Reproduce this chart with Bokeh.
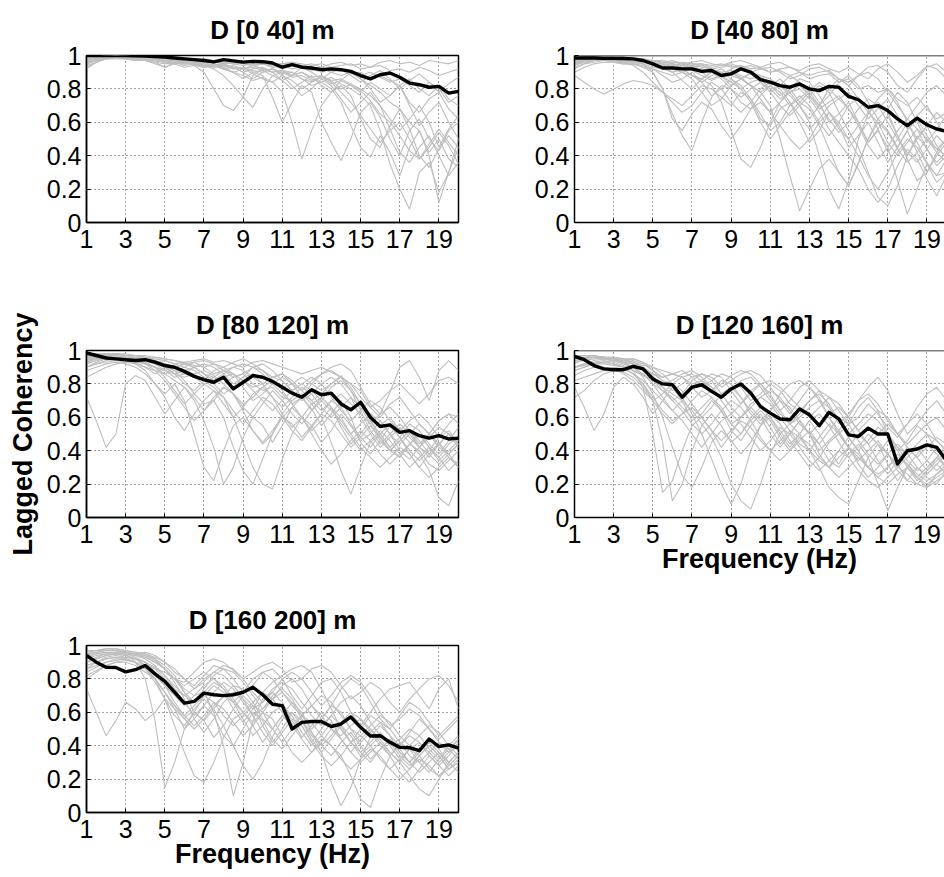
from bokeh.plotting import figure
from bokeh.layouts import column, row
from bokeh.models import FixedTicker, NumeralTickFormatter, Span, Range1d
from bokeh.embed import file_html
from bokeh.resources import INLINE

# ---------------- data ----------------
FREQ = [1.0, 1.5, 2.0, 2.5, 3.0, 3.5, 4.0, 4.5, 5.0, 5.5, 6.0, 6.5, 7.0, 7.5, 8.0, 8.5,
        9.0, 9.5, 10.0, 10.5, 11.0, 11.5, 12.0, 12.5, 13.0, 13.5, 14.0, 14.5, 15.0,
        15.5, 16.0, 16.5, 17.0, 17.5, 18.0, 18.5, 19.0, 19.5, 20.0]
X_TICKS = [1, 3, 5, 7, 9, 11, 13, 15, 17, 19]
Y_TICKS = [0, 0.2, 0.4, 0.6, 0.8, 1.0]
TITLES = ["D [0 40] m", "D [40 80] m", "D [80 120] m", "D [120 160] m", "D [160 200] m"]
X_LABEL = "Frequency (Hz)"
Y_LABEL = "Lagged Coherency"

MEAN_0_40 = [1.0, 1.0, 1.0, 1.0, 1.0, 0.998, 0.997, 0.993, 0.99, 0.985, 0.98, 0.975, 0.97,
             0.962, 0.975, 0.968, 0.96, 0.965, 0.963, 0.955, 0.93, 0.945, 0.93, 0.925, 0.915,
             0.92, 0.915, 0.905, 0.88, 0.86, 0.885, 0.895, 0.87, 0.835, 0.825, 0.81, 0.815,
             0.775, 0.785]
GREY_0_40 = [
    [0.97,0.98,0.99,1.0,0.99,0.99,0.98,0.98,0.97,0.98,0.97,0.96,0.97,0.96,0.95,0.96,0.97,0.95,0.96,0.94,0.95,0.96,0.94,0.95,0.93,0.95,0.96,0.94,0.95,0.93,0.96,0.97,0.95,0.96,0.94,0.97,0.96,0.95,0.97],
    [0.95,0.97,0.99,0.99,0.98,0.98,0.97,0.97,0.96,0.95,0.93,0.94,0.9,0.8,0.7,0.67,0.75,0.88,0.92,0.9,0.85,0.88,0.93,0.9,0.86,0.9,0.92,0.88,0.84,0.88,0.91,0.86,0.8,0.85,0.89,0.84,0.78,0.83,0.87],
    [0.92,0.96,0.98,0.99,0.99,0.98,0.98,0.97,0.96,0.97,0.96,0.95,0.94,0.95,0.93,0.9,0.86,0.9,0.88,0.75,0.6,0.72,0.82,0.78,0.6,0.48,0.37,0.5,0.66,0.72,0.63,0.5,0.4,0.55,0.62,0.5,0.43,0.55,0.6],
    [0.96,0.98,0.99,0.99,0.98,0.98,0.97,0.96,0.93,0.95,0.96,0.95,0.93,0.94,0.92,0.9,0.88,0.85,0.87,0.84,0.78,0.6,0.38,0.55,0.7,0.78,0.82,0.76,0.62,0.5,0.45,0.58,0.68,0.56,0.4,0.33,0.44,0.52,0.45],
    [0.97,0.98,0.99,0.99,0.99,0.98,0.98,0.97,0.97,0.96,0.97,0.96,0.95,0.94,0.95,0.93,0.92,0.94,0.92,0.9,0.91,0.88,0.9,0.86,0.84,0.87,0.83,0.8,0.76,0.7,0.55,0.35,0.2,0.08,0.3,0.36,0.18,0.3,0.45],
    [0.98,0.99,0.99,1.0,0.99,0.99,0.99,0.98,0.97,0.98,0.97,0.97,0.96,0.96,0.96,0.95,0.94,0.95,0.95,0.93,0.94,0.92,0.93,0.91,0.92,0.9,0.88,0.9,0.86,0.82,0.78,0.72,0.68,0.6,0.55,0.42,0.5,0.38,0.33],
    [0.96,0.97,0.98,0.99,0.98,0.97,0.97,0.95,0.93,0.96,0.97,0.96,0.94,0.92,0.88,0.82,0.75,0.69,0.8,0.88,0.85,0.8,0.84,0.88,0.82,0.78,0.85,0.9,0.86,0.8,0.72,0.76,0.82,0.7,0.58,0.66,0.72,0.6,0.5],
    [0.95,0.97,0.98,0.99,0.99,0.98,0.97,0.97,0.96,0.95,0.96,0.94,0.95,0.93,0.94,0.92,0.93,0.91,0.9,0.92,0.89,0.9,0.86,0.82,0.84,0.8,0.72,0.58,0.45,0.39,0.52,0.42,0.28,0.45,0.55,0.4,0.12,0.3,0.5],
    [0.99,0.99,1.0,1.0,1.0,0.99,0.99,0.99,0.98,0.98,0.98,0.97,0.98,0.97,0.97,0.96,0.97,0.96,0.96,0.95,0.95,0.96,0.95,0.94,0.95,0.93,0.94,0.95,0.92,0.93,0.94,0.91,0.92,0.9,0.93,0.91,0.88,0.9,0.92],
    [0.93,0.96,0.98,0.99,0.99,0.98,0.98,0.97,0.97,0.96,0.95,0.96,0.94,0.93,0.94,0.93,0.9,0.92,0.93,0.9,0.91,0.9,0.86,0.84,0.87,0.85,0.8,0.83,0.79,0.73,0.65,0.6,0.52,0.43,0.38,0.47,0.56,0.48,0.4],
    [0.97,0.98,0.99,0.99,0.99,0.99,0.98,0.98,0.97,0.97,0.96,0.95,0.96,0.94,0.95,0.92,0.93,0.9,0.91,0.88,0.9,0.87,0.88,0.85,0.87,0.83,0.85,0.82,0.78,0.84,0.8,0.76,0.82,0.72,0.66,0.74,0.78,0.68,0.62],
    [0.98,0.99,0.99,0.99,0.99,0.99,0.98,0.98,0.98,0.97,0.97,0.96,0.96,0.97,0.95,0.96,0.95,0.94,0.95,0.94,0.92,0.94,0.93,0.92,0.9,0.92,0.91,0.89,0.9,0.86,0.88,0.85,0.82,0.86,0.8,0.76,0.82,0.74,0.7],
    [0.96,0.97,0.98,0.99,0.99,0.98,0.98,0.97,0.96,0.96,0.95,0.95,0.94,0.95,0.93,0.94,0.92,0.93,0.91,0.92,0.9,0.88,0.9,0.87,0.88,0.85,0.86,0.83,0.8,0.76,0.7,0.62,0.55,0.62,0.7,0.6,0.45,0.56,0.64],
    [0.94,0.96,0.98,0.98,0.98,0.97,0.97,0.96,0.95,0.96,0.94,0.95,0.93,0.94,0.92,0.93,0.9,0.86,0.9,0.92,0.88,0.82,0.76,0.8,0.86,0.82,0.74,0.66,0.72,0.78,0.7,0.56,0.42,0.36,0.45,0.52,0.4,0.28,0.36],
    [0.97,0.98,0.99,0.99,0.99,0.99,0.98,0.98,0.97,0.97,0.97,0.96,0.97,0.96,0.96,0.95,0.96,0.94,0.95,0.93,0.94,0.95,0.93,0.92,0.93,0.91,0.92,0.9,0.88,0.9,0.87,0.84,0.86,0.82,0.78,0.84,0.8,0.72,0.76],
    [0.95,0.97,0.98,0.99,0.98,0.98,0.97,0.97,0.96,0.95,0.96,0.94,0.93,0.94,0.92,0.9,0.92,0.89,0.86,0.84,0.88,0.85,0.8,0.84,0.88,0.84,0.78,0.72,0.64,0.56,0.48,0.55,0.6,0.5,0.38,0.45,0.54,0.46,0.35],
]

MEAN_40_80 = [0.985, 0.985, 0.985, 0.983, 0.983, 0.982, 0.98, 0.97, 0.95, 0.925, 0.925, 0.92,
              0.92, 0.905, 0.91, 0.88, 0.89, 0.92, 0.9, 0.855, 0.84, 0.82, 0.81, 0.83, 0.8,
              0.79, 0.815, 0.81, 0.755, 0.735, 0.69, 0.7, 0.67, 0.62, 0.58, 0.625, 0.585,
              0.56, 0.545]
GREY_40_80 = [
    [0.97,0.98,0.99,0.99,0.99,0.98,0.98,0.97,0.97,0.96,0.97,0.95,0.96,0.97,0.95,0.94,0.96,0.97,0.95,0.93,0.95,0.96,0.93,0.91,0.94,0.95,0.92,0.9,0.93,0.89,0.86,0.92,0.95,0.9,0.84,0.88,0.94,0.92,0.86],
    [0.88,0.84,0.8,0.77,0.8,0.83,0.85,0.84,0.82,0.78,0.74,0.7,0.76,0.82,0.8,0.75,0.7,0.78,0.74,0.62,0.58,0.68,0.72,0.6,0.48,0.55,0.66,0.58,0.45,0.52,0.6,0.48,0.36,0.45,0.55,0.42,0.3,0.4,0.48],
    [0.96,0.97,0.98,0.98,0.97,0.96,0.95,0.93,0.9,0.8,0.65,0.52,0.43,0.6,0.75,0.82,0.8,0.72,0.68,0.76,0.82,0.78,0.7,0.74,0.8,0.72,0.6,0.65,0.72,0.6,0.48,0.56,0.64,0.52,0.4,0.5,0.58,0.46,0.38],
    [0.95,0.97,0.98,0.98,0.98,0.97,0.97,0.96,0.95,0.94,0.92,0.9,0.88,0.86,0.82,0.72,0.55,0.38,0.33,0.45,0.6,0.72,0.78,0.7,0.62,0.7,0.8,0.86,0.82,0.74,0.66,0.74,0.8,0.72,0.6,0.5,0.58,0.66,0.6],
    [0.97,0.98,0.98,0.99,0.98,0.98,0.97,0.96,0.97,0.95,0.93,0.94,0.92,0.9,0.92,0.88,0.9,0.86,0.82,0.78,0.7,0.5,0.28,0.07,0.2,0.32,0.38,0.3,0.22,0.35,0.5,0.62,0.55,0.45,0.55,0.62,0.52,0.44,0.5],
    [0.96,0.97,0.98,0.99,0.98,0.98,0.97,0.97,0.96,0.95,0.94,0.95,0.93,0.92,0.9,0.92,0.88,0.86,0.89,0.84,0.8,0.82,0.76,0.7,0.6,0.4,0.2,0.08,0.25,0.5,0.65,0.72,0.66,0.52,0.38,0.25,0.3,0.42,0.5],
    [0.98,0.99,0.99,0.99,0.99,0.99,0.98,0.98,0.97,0.97,0.96,0.96,0.95,0.95,0.94,0.95,0.93,0.94,0.92,0.93,0.9,0.91,0.88,0.9,0.86,0.88,0.89,0.84,0.86,0.8,0.82,0.78,0.8,0.74,0.7,0.75,0.68,0.62,0.66],
    [0.94,0.96,0.97,0.98,0.97,0.96,0.96,0.95,0.93,0.92,0.9,0.92,0.88,0.86,0.9,0.88,0.84,0.8,0.84,0.86,0.8,0.74,0.78,0.82,0.76,0.68,0.72,0.76,0.68,0.6,0.48,0.55,0.45,0.25,0.05,0.2,0.35,0.28,0.3],
    [0.95,0.96,0.97,0.97,0.96,0.95,0.95,0.94,0.92,0.88,0.84,0.86,0.9,0.84,0.76,0.8,0.86,0.82,0.74,0.65,0.55,0.6,0.7,0.76,0.7,0.6,0.52,0.6,0.7,0.75,0.68,0.56,0.42,0.5,0.6,0.48,0.36,0.28,0.38],
    [0.97,0.98,0.98,0.99,0.99,0.98,0.98,0.98,0.97,0.96,0.96,0.95,0.94,0.95,0.93,0.94,0.95,0.93,0.94,0.92,0.9,0.92,0.93,0.9,0.88,0.9,0.91,0.86,0.82,0.88,0.93,0.94,0.9,0.82,0.78,0.86,0.93,0.95,0.9],
    [0.96,0.97,0.98,0.98,0.98,0.97,0.96,0.96,0.95,0.93,0.9,0.85,0.8,0.86,0.9,0.86,0.8,0.75,0.8,0.84,0.78,0.7,0.64,0.7,0.76,0.82,0.78,0.66,0.55,0.45,0.3,0.15,0.1,0.22,0.4,0.52,0.44,0.36,0.42],
    [0.92,0.95,0.97,0.97,0.96,0.96,0.97,0.96,0.95,0.94,0.95,0.93,0.91,0.88,0.85,0.88,0.9,0.87,0.82,0.78,0.82,0.86,0.8,0.72,0.78,0.84,0.8,0.74,0.78,0.7,0.62,0.68,0.74,0.64,0.56,0.64,0.7,0.6,0.52],
    [0.98,0.98,0.99,0.99,0.98,0.98,0.97,0.96,0.95,0.93,0.9,0.92,0.94,0.9,0.86,0.88,0.92,0.94,0.9,0.84,0.78,0.82,0.88,0.84,0.76,0.7,0.76,0.84,0.88,0.82,0.72,0.62,0.68,0.78,0.72,0.6,0.48,0.56,0.64],
    [0.93,0.95,0.96,0.97,0.97,0.96,0.94,0.9,0.84,0.78,0.72,0.66,0.7,0.78,0.84,0.8,0.72,0.66,0.72,0.8,0.84,0.8,0.72,0.64,0.56,0.62,0.7,0.74,0.68,0.58,0.46,0.38,0.45,0.55,0.62,0.56,0.44,0.34,0.4],
    [0.97,0.98,0.98,0.98,0.98,0.97,0.97,0.96,0.96,0.95,0.95,0.94,0.93,0.94,0.92,0.93,0.94,0.92,0.9,0.92,0.93,0.9,0.86,0.88,0.92,0.93,0.9,0.86,0.84,0.88,0.9,0.86,0.78,0.7,0.62,0.7,0.78,0.82,0.76],
    [0.95,0.96,0.97,0.98,0.97,0.97,0.96,0.95,0.9,0.8,0.62,0.55,0.65,0.72,0.68,0.58,0.5,0.58,0.68,0.72,0.66,0.58,0.5,0.44,0.5,0.6,0.66,0.6,0.5,0.4,0.28,0.2,0.3,0.42,0.5,0.45,0.35,0.24,0.3],
    [0.96,0.97,0.98,0.98,0.98,0.97,0.96,0.96,0.95,0.94,0.93,0.9,0.92,0.94,0.92,0.88,0.82,0.86,0.9,0.88,0.82,0.76,0.8,0.86,0.84,0.76,0.66,0.56,0.5,0.58,0.66,0.6,0.48,0.4,0.48,0.56,0.5,0.42,0.36],
    [0.9,0.93,0.95,0.96,0.96,0.95,0.95,0.93,0.92,0.9,0.88,0.9,0.86,0.78,0.7,0.74,0.82,0.86,0.82,0.74,0.66,0.72,0.8,0.84,0.78,0.7,0.62,0.54,0.6,0.68,0.74,0.7,0.6,0.5,0.42,0.36,0.44,0.52,0.46],
    [0.97,0.98,0.98,0.99,0.98,0.98,0.97,0.97,0.96,0.96,0.95,0.94,0.95,0.93,0.92,0.9,0.91,0.88,0.86,0.88,0.86,0.82,0.78,0.8,0.74,0.66,0.56,0.48,0.4,0.32,0.2,0.12,0.2,0.34,0.44,0.38,0.26,0.16,0.28],
    [0.96,0.97,0.97,0.98,0.98,0.97,0.97,0.96,0.94,0.92,0.94,0.92,0.88,0.84,0.88,0.9,0.86,0.8,0.72,0.6,0.5,0.58,0.66,0.72,0.68,0.58,0.44,0.3,0.22,0.36,0.5,0.6,0.54,0.44,0.36,0.42,0.5,0.44,0.4],
]

MEAN_80_120 = [0.985, 0.97, 0.955, 0.95, 0.945, 0.94, 0.945, 0.93, 0.91, 0.9, 0.875, 0.845,
               0.825, 0.81, 0.84, 0.77, 0.81, 0.85, 0.84, 0.815, 0.78, 0.745, 0.72, 0.765,
               0.735, 0.745, 0.68, 0.645, 0.69, 0.6, 0.545, 0.555, 0.51, 0.52, 0.49, 0.475,
               0.49, 0.47, 0.475]
GREY_80_120 = [
    [0.72,0.58,0.42,0.5,0.8,0.85,0.82,0.72,0.62,0.7,0.78,0.72,0.64,0.7,0.78,0.74,0.66,0.6,0.68,0.76,0.7,0.62,0.56,0.64,0.72,0.66,0.54,0.44,0.5,0.58,0.48,0.4,0.46,0.52,0.42,0.36,0.44,0.5,0.42],
    [0.95,0.97,0.98,0.98,0.98,0.97,0.97,0.96,0.95,0.94,0.93,0.94,0.95,0.93,0.94,0.92,0.9,0.93,0.94,0.92,0.9,0.88,0.86,0.88,0.9,0.87,0.84,0.8,0.76,0.66,0.6,0.68,0.72,0.64,0.56,0.5,0.58,0.62,0.56],
    [0.9,0.92,0.94,0.95,0.94,0.92,0.88,0.8,0.74,0.8,0.7,0.5,0.3,0.22,0.4,0.55,0.6,0.52,0.45,0.52,0.6,0.56,0.48,0.55,0.62,0.58,0.5,0.42,0.48,0.55,0.48,0.4,0.36,0.44,0.5,0.42,0.34,0.4,0.46],
    [0.93,0.95,0.96,0.96,0.95,0.94,0.93,0.9,0.86,0.82,0.78,0.7,0.58,0.42,0.2,0.3,0.48,0.6,0.55,0.45,0.55,0.66,0.72,0.65,0.55,0.62,0.7,0.6,0.45,0.38,0.46,0.55,0.48,0.38,0.3,0.38,0.45,0.38,0.3],
    [0.96,0.97,0.98,0.98,0.97,0.97,0.96,0.94,0.92,0.9,0.88,0.86,0.82,0.78,0.72,0.6,0.45,0.3,0.2,0.17,0.35,0.5,0.6,0.55,0.45,0.52,0.62,0.55,0.46,0.5,0.58,0.5,0.4,0.35,0.42,0.5,0.44,0.36,0.3],
    [0.94,0.96,0.97,0.97,0.96,0.96,0.95,0.93,0.94,0.92,0.9,0.93,0.94,0.92,0.9,0.93,0.95,0.92,0.88,0.84,0.86,0.8,0.76,0.82,0.86,0.9,0.92,0.88,0.78,0.68,0.62,0.75,0.9,0.94,0.84,0.7,0.88,0.94,0.88],
    [0.92,0.94,0.95,0.95,0.94,0.93,0.92,0.9,0.88,0.86,0.84,0.86,0.88,0.85,0.8,0.84,0.86,0.8,0.76,0.78,0.72,0.7,0.74,0.68,0.6,0.45,0.28,0.14,0.3,0.45,0.5,0.42,0.36,0.44,0.5,0.42,0.36,0.44,0.48],
    [0.96,0.97,0.97,0.98,0.97,0.97,0.96,0.95,0.94,0.92,0.93,0.91,0.9,0.92,0.88,0.84,0.86,0.9,0.88,0.82,0.78,0.8,0.84,0.8,0.76,0.8,0.85,0.78,0.68,0.6,0.55,0.6,0.52,0.45,0.38,0.28,0.12,0.07,0.22],
    [0.88,0.9,0.92,0.93,0.92,0.9,0.86,0.8,0.72,0.6,0.52,0.62,0.7,0.76,0.72,0.64,0.56,0.64,0.72,0.68,0.6,0.52,0.46,0.54,0.62,0.7,0.66,0.56,0.48,0.42,0.5,0.56,0.48,0.4,0.34,0.4,0.48,0.52,0.44],
    [0.84,0.87,0.9,0.92,0.93,0.94,0.92,0.9,0.88,0.9,0.92,0.9,0.86,0.82,0.86,0.9,0.92,0.9,0.86,0.8,0.74,0.68,0.72,0.8,0.86,0.88,0.84,0.76,0.68,0.58,0.5,0.42,0.48,0.56,0.52,0.44,0.38,0.46,0.54],
    [0.95,0.96,0.96,0.96,0.95,0.93,0.9,0.86,0.9,0.88,0.82,0.74,0.68,0.7,0.6,0.42,0.28,0.2,0.35,0.5,0.62,0.7,0.74,0.7,0.64,0.7,0.74,0.68,0.62,0.56,0.62,0.66,0.6,0.52,0.44,0.5,0.58,0.62,0.6],
    [0.9,0.93,0.95,0.96,0.96,0.95,0.94,0.92,0.9,0.88,0.86,0.84,0.8,0.84,0.88,0.86,0.82,0.78,0.8,0.84,0.86,0.82,0.76,0.7,0.74,0.8,0.84,0.8,0.72,0.66,0.7,0.76,0.8,0.74,0.68,0.74,0.82,0.84,0.8],
    [0.97,0.98,0.98,0.98,0.97,0.96,0.95,0.93,0.9,0.86,0.88,0.9,0.86,0.8,0.74,0.78,0.84,0.86,0.8,0.72,0.66,0.72,0.78,0.74,0.66,0.6,0.66,0.72,0.66,0.56,0.46,0.4,0.46,0.52,0.46,0.38,0.32,0.38,0.44],
    [0.92,0.94,0.96,0.96,0.95,0.94,0.94,0.92,0.9,0.86,0.8,0.76,0.82,0.88,0.9,0.86,0.78,0.7,0.74,0.8,0.84,0.8,0.72,0.64,0.7,0.78,0.82,0.76,0.64,0.52,0.44,0.5,0.56,0.5,0.42,0.38,0.44,0.5,0.46],
    [0.96,0.97,0.97,0.97,0.96,0.95,0.93,0.9,0.84,0.76,0.68,0.74,0.8,0.76,0.68,0.6,0.66,0.74,0.78,0.72,0.62,0.54,0.6,0.68,0.72,0.66,0.56,0.48,0.4,0.46,0.52,0.46,0.38,0.3,0.36,0.42,0.36,0.28,0.34],
    [0.98,0.98,0.98,0.98,0.97,0.97,0.96,0.96,0.95,0.94,0.92,0.93,0.9,0.86,0.88,0.9,0.88,0.84,0.8,0.84,0.82,0.76,0.7,0.74,0.8,0.84,0.8,0.72,0.6,0.5,0.42,0.48,0.54,0.48,0.42,0.48,0.54,0.5,0.44],
    [0.94,0.95,0.96,0.96,0.95,0.94,0.92,0.88,0.82,0.74,0.66,0.58,0.64,0.72,0.78,0.74,0.64,0.52,0.44,0.5,0.6,0.66,0.6,0.5,0.4,0.32,0.38,0.46,0.52,0.46,0.38,0.32,0.38,0.44,0.4,0.32,0.28,0.34,0.4],
    [0.9,0.92,0.93,0.94,0.93,0.92,0.9,0.88,0.86,0.88,0.9,0.88,0.84,0.8,0.84,0.86,0.82,0.76,0.7,0.64,0.7,0.76,0.8,0.76,0.7,0.64,0.58,0.5,0.56,0.62,0.58,0.5,0.44,0.5,0.56,0.5,0.42,0.38,0.44],
    [0.96,0.97,0.97,0.98,0.97,0.96,0.95,0.94,0.92,0.9,0.92,0.9,0.86,0.84,0.8,0.74,0.68,0.72,0.78,0.82,0.76,0.68,0.6,0.52,0.58,0.66,0.6,0.5,0.42,0.36,0.3,0.36,0.42,0.38,0.3,0.24,0.3,0.36,0.32],
    [0.93,0.95,0.96,0.96,0.96,0.95,0.94,0.92,0.88,0.84,0.86,0.9,0.92,0.9,0.86,0.8,0.84,0.9,0.92,0.88,0.82,0.76,0.8,0.84,0.8,0.72,0.64,0.58,0.64,0.7,0.66,0.58,0.52,0.58,0.62,0.56,0.48,0.56,0.62],
]

MEAN_120_160 = [0.965, 0.945, 0.91, 0.89, 0.885, 0.885, 0.905, 0.89, 0.83, 0.8, 0.795, 0.72,
                0.78, 0.795, 0.755, 0.72, 0.77, 0.8, 0.745, 0.665, 0.625, 0.59, 0.585, 0.65,
                0.615, 0.55, 0.63, 0.59, 0.495, 0.485, 0.535, 0.5, 0.5, 0.32, 0.4, 0.41,
                0.435, 0.42, 0.34]
GREY_120_160 = [
    [0.92,0.95,0.96,0.96,0.95,0.94,0.93,0.9,0.85,0.78,0.7,0.74,0.82,0.86,0.84,0.78,0.82,0.86,0.88,0.85,0.78,0.7,0.62,0.7,0.78,0.72,0.6,0.5,0.56,0.66,0.72,0.64,0.5,0.4,0.46,0.55,0.5,0.4,0.36],
    [0.78,0.66,0.52,0.62,0.78,0.84,0.8,0.72,0.62,0.7,0.78,0.7,0.58,0.62,0.7,0.64,0.52,0.46,0.55,0.62,0.54,0.44,0.5,0.58,0.5,0.4,0.46,0.52,0.42,0.34,0.4,0.46,0.38,0.3,0.36,0.42,0.34,0.28,0.34],
    [0.94,0.95,0.96,0.96,0.95,0.93,0.88,0.78,0.5,0.15,0.22,0.4,0.55,0.6,0.52,0.42,0.5,0.6,0.66,0.6,0.5,0.42,0.5,0.58,0.5,0.38,0.3,0.4,0.48,0.4,0.3,0.24,0.3,0.38,0.32,0.24,0.3,0.36,0.3],
    [0.9,0.92,0.93,0.93,0.92,0.9,0.86,0.8,0.7,0.45,0.1,0.2,0.4,0.55,0.62,0.55,0.45,0.5,0.6,0.66,0.6,0.5,0.42,0.5,0.58,0.5,0.4,0.32,0.42,0.5,0.44,0.34,0.26,0.34,0.42,0.36,0.28,0.34,0.4],
    [0.96,0.97,0.97,0.96,0.95,0.95,0.93,0.9,0.86,0.82,0.8,0.84,0.86,0.82,0.76,0.8,0.85,0.88,0.86,0.8,0.72,0.64,0.7,0.78,0.82,0.76,0.66,0.56,0.62,0.7,0.74,0.68,0.58,0.5,0.56,0.62,0.56,0.46,0.4],
    [0.93,0.94,0.95,0.96,0.95,0.94,0.93,0.91,0.9,0.86,0.8,0.72,0.62,0.5,0.35,0.2,0.08,0.2,0.4,0.55,0.6,0.52,0.44,0.5,0.58,0.62,0.55,0.45,0.36,0.42,0.5,0.44,0.32,0.22,0.3,0.38,0.44,0.38,0.3],
    [0.85,0.88,0.9,0.9,0.89,0.86,0.82,0.76,0.7,0.74,0.8,0.76,0.68,0.6,0.66,0.74,0.78,0.72,0.62,0.56,0.64,0.74,0.8,0.82,0.78,0.7,0.6,0.52,0.6,0.7,0.78,0.84,0.76,0.62,0.5,0.56,0.64,0.7,0.62],
    [0.95,0.96,0.96,0.96,0.95,0.93,0.9,0.86,0.8,0.76,0.72,0.66,0.6,0.66,0.72,0.66,0.56,0.5,0.58,0.64,0.58,0.48,0.4,0.46,0.52,0.44,0.34,0.3,0.38,0.44,0.36,0.2,0.04,0.18,0.3,0.24,0.18,0.26,0.32],
    [0.72,0.76,0.82,0.86,0.88,0.87,0.84,0.78,0.7,0.62,0.56,0.62,0.7,0.76,0.72,0.64,0.56,0.6,0.68,0.72,0.68,0.6,0.52,0.44,0.4,0.48,0.56,0.5,0.42,0.36,0.3,0.38,0.46,0.4,0.3,0.22,0.28,0.36,0.44],
    [0.88,0.9,0.92,0.93,0.94,0.93,0.9,0.84,0.74,0.6,0.42,0.25,0.18,0.3,0.45,0.52,0.46,0.38,0.45,0.55,0.62,0.56,0.46,0.38,0.3,0.36,0.45,0.5,0.42,0.32,0.24,0.3,0.38,0.32,0.22,0.2,0.26,0.32,0.26],
    [0.97,0.97,0.96,0.95,0.94,0.94,0.95,0.93,0.88,0.84,0.86,0.88,0.84,0.78,0.82,0.86,0.84,0.78,0.7,0.74,0.8,0.76,0.68,0.64,0.7,0.76,0.72,0.64,0.56,0.6,0.68,0.62,0.54,0.48,0.56,0.66,0.74,0.78,0.7],
    [0.9,0.91,0.93,0.94,0.93,0.91,0.88,0.85,0.82,0.78,0.74,0.7,0.64,0.56,0.48,0.36,0.2,0.1,0.05,0.2,0.38,0.5,0.56,0.5,0.4,0.3,0.18,0.12,0.08,0.22,0.36,0.44,0.38,0.28,0.22,0.3,0.24,0.2,0.28],
    [0.95,0.96,0.96,0.95,0.94,0.92,0.9,0.86,0.8,0.72,0.64,0.7,0.78,0.82,0.78,0.7,0.62,0.68,0.76,0.8,0.74,0.64,0.56,0.62,0.7,0.74,0.68,0.58,0.48,0.4,0.46,0.54,0.5,0.42,0.34,0.28,0.34,0.42,0.38],
    [0.9,0.92,0.94,0.95,0.95,0.94,0.92,0.9,0.86,0.84,0.86,0.84,0.78,0.72,0.76,0.82,0.8,0.72,0.64,0.58,0.64,0.7,0.66,0.58,0.5,0.44,0.52,0.6,0.56,0.46,0.38,0.32,0.38,0.44,0.38,0.3,0.26,0.32,0.38],
    [0.96,0.96,0.96,0.95,0.94,0.93,0.92,0.88,0.84,0.8,0.82,0.86,0.88,0.84,0.78,0.72,0.76,0.82,0.84,0.78,0.7,0.62,0.56,0.6,0.66,0.7,0.66,0.58,0.5,0.56,0.62,0.58,0.5,0.42,0.38,0.44,0.5,0.46,0.4],
    [0.82,0.84,0.86,0.88,0.9,0.89,0.86,0.8,0.72,0.64,0.58,0.62,0.66,0.6,0.52,0.46,0.52,0.58,0.54,0.46,0.4,0.46,0.52,0.48,0.4,0.34,0.3,0.36,0.42,0.38,0.3,0.26,0.3,0.36,0.32,0.26,0.22,0.26,0.3],
    [0.94,0.95,0.96,0.96,0.96,0.95,0.94,0.92,0.88,0.82,0.76,0.8,0.84,0.86,0.82,0.74,0.66,0.6,0.66,0.72,0.76,0.72,0.64,0.56,0.5,0.56,0.62,0.66,0.6,0.52,0.44,0.5,0.56,0.5,0.42,0.36,0.42,0.48,0.44],
    [0.9,0.91,0.92,0.92,0.91,0.9,0.88,0.86,0.82,0.76,0.7,0.64,0.56,0.5,0.56,0.64,0.7,0.66,0.58,0.48,0.4,0.34,0.4,0.48,0.44,0.36,0.3,0.24,0.3,0.36,0.3,0.24,0.2,0.26,0.3,0.24,0.2,0.24,0.28],
    [0.97,0.97,0.97,0.96,0.96,0.95,0.95,0.93,0.9,0.88,0.86,0.84,0.8,0.82,0.86,0.84,0.76,0.68,0.74,0.8,0.82,0.78,0.72,0.66,0.6,0.66,0.72,0.68,0.6,0.52,0.58,0.64,0.6,0.5,0.44,0.5,0.56,0.6,0.52],
    [0.88,0.9,0.92,0.93,0.92,0.9,0.86,0.82,0.76,0.7,0.64,0.58,0.5,0.42,0.5,0.58,0.62,0.56,0.48,0.4,0.46,0.54,0.5,0.42,0.34,0.28,0.34,0.4,0.36,0.28,0.22,0.18,0.24,0.3,0.26,0.2,0.18,0.22,0.26],
]

MEAN_160_200 = [0.94, 0.9, 0.87, 0.868, 0.842, 0.855, 0.88, 0.83, 0.785, 0.72, 0.655, 0.665,
                0.715, 0.705, 0.7, 0.705, 0.72, 0.75, 0.705, 0.648, 0.64, 0.5, 0.54, 0.545,
                0.545, 0.515, 0.53, 0.572, 0.51, 0.458, 0.46, 0.42, 0.39, 0.388, 0.37, 0.44,
                0.395, 0.405, 0.385]
GREY_160_200 = [
    [0.96,0.97,0.98,0.98,0.97,0.96,0.95,0.92,0.86,0.8,0.78,0.84,0.9,0.92,0.9,0.85,0.8,0.84,0.88,0.9,0.86,0.78,0.8,0.86,0.88,0.84,0.76,0.68,0.72,0.78,0.74,0.66,0.6,0.68,0.74,0.8,0.82,0.76,0.66],
    [0.74,0.6,0.46,0.55,0.66,0.62,0.55,0.6,0.68,0.62,0.5,0.56,0.64,0.58,0.46,0.4,0.5,0.6,0.55,0.44,0.38,0.46,0.54,0.48,0.4,0.34,0.42,0.48,0.4,0.32,0.38,0.44,0.36,0.3,0.36,0.42,0.36,0.28,0.34],
    [0.93,0.95,0.96,0.96,0.95,0.9,0.8,0.55,0.15,0.3,0.5,0.6,0.55,0.45,0.52,0.62,0.7,0.64,0.52,0.42,0.5,0.6,0.55,0.44,0.36,0.44,0.52,0.46,0.36,0.3,0.38,0.44,0.38,0.3,0.24,0.3,0.36,0.3,0.24],
    [0.9,0.92,0.94,0.95,0.94,0.92,0.88,0.82,0.76,0.7,0.64,0.7,0.72,0.6,0.4,0.1,0.3,0.55,0.68,0.72,0.66,0.55,0.45,0.52,0.6,0.55,0.44,0.36,0.44,0.5,0.44,0.36,0.3,0.38,0.42,0.36,0.3,0.36,0.4],
    [0.88,0.9,0.92,0.93,0.92,0.9,0.86,0.78,0.68,0.58,0.52,0.6,0.7,0.76,0.72,0.62,0.54,0.62,0.72,0.78,0.82,0.86,0.88,0.84,0.74,0.62,0.5,0.42,0.5,0.58,0.54,0.46,0.4,0.48,0.56,0.5,0.42,0.36,0.44],
    [0.95,0.96,0.97,0.97,0.96,0.95,0.94,0.92,0.88,0.82,0.72,0.6,0.55,0.62,0.7,0.76,0.74,0.66,0.56,0.5,0.58,0.66,0.6,0.48,0.36,0.18,0.04,0.15,0.32,0.45,0.52,0.46,0.36,0.3,0.38,0.44,0.38,0.3,0.36],
    [0.9,0.93,0.95,0.96,0.96,0.95,0.93,0.9,0.86,0.8,0.72,0.66,0.74,0.82,0.86,0.84,0.78,0.7,0.62,0.68,0.76,0.8,0.74,0.64,0.56,0.64,0.74,0.8,0.76,0.66,0.56,0.5,0.58,0.66,0.62,0.54,0.46,0.52,0.58],
    [0.86,0.88,0.9,0.91,0.92,0.9,0.86,0.8,0.72,0.64,0.58,0.64,0.7,0.66,0.58,0.52,0.58,0.64,0.6,0.5,0.42,0.5,0.58,0.54,0.46,0.4,0.34,0.22,0.08,0.03,0.2,0.34,0.42,0.38,0.3,0.24,0.32,0.4,0.34],
    [0.8,0.84,0.88,0.9,0.9,0.88,0.84,0.8,0.72,0.62,0.56,0.62,0.68,0.62,0.52,0.4,0.28,0.2,0.3,0.45,0.56,0.6,0.52,0.42,0.5,0.58,0.52,0.42,0.34,0.4,0.46,0.4,0.32,0.26,0.34,0.4,0.34,0.26,0.3],
    [0.94,0.96,0.97,0.97,0.96,0.95,0.96,0.94,0.9,0.84,0.8,0.76,0.82,0.88,0.86,0.8,0.72,0.76,0.84,0.86,0.8,0.7,0.62,0.7,0.78,0.8,0.72,0.6,0.52,0.6,0.68,0.74,0.76,0.78,0.7,0.62,0.74,0.8,0.62],
    [0.92,0.94,0.95,0.95,0.94,0.92,0.88,0.8,0.68,0.52,0.36,0.22,0.18,0.3,0.45,0.56,0.6,0.52,0.42,0.5,0.58,0.52,0.44,0.36,0.42,0.5,0.44,0.36,0.3,0.36,0.42,0.34,0.24,0.18,0.26,0.34,0.28,0.22,0.28],
    [0.86,0.9,0.93,0.94,0.93,0.92,0.9,0.87,0.82,0.76,0.7,0.66,0.72,0.78,0.74,0.66,0.6,0.66,0.72,0.68,0.6,0.52,0.58,0.64,0.58,0.5,0.46,0.52,0.56,0.5,0.42,0.36,0.3,0.22,0.14,0.1,0.2,0.3,0.36],
    [0.97,0.97,0.98,0.98,0.97,0.96,0.95,0.93,0.9,0.86,0.8,0.74,0.78,0.84,0.88,0.86,0.8,0.72,0.66,0.72,0.8,0.84,0.8,0.72,0.64,0.7,0.78,0.82,0.78,0.7,0.6,0.52,0.56,0.62,0.58,0.5,0.44,0.5,0.56],
    [0.84,0.87,0.9,0.92,0.92,0.9,0.86,0.8,0.72,0.64,0.56,0.5,0.56,0.64,0.7,0.66,0.56,0.46,0.52,0.6,0.64,0.58,0.48,0.4,0.46,0.54,0.5,0.42,0.36,0.42,0.48,0.42,0.34,0.28,0.34,0.4,0.34,0.26,0.32],
    [0.95,0.96,0.97,0.97,0.96,0.94,0.92,0.88,0.82,0.74,0.66,0.58,0.64,0.72,0.78,0.74,0.66,0.58,0.62,0.7,0.74,0.68,0.58,0.5,0.56,0.64,0.6,0.5,0.42,0.48,0.54,0.5,0.42,0.34,0.3,0.36,0.42,0.38,0.32],
    [0.9,0.92,0.94,0.95,0.95,0.94,0.93,0.9,0.86,0.8,0.74,0.7,0.76,0.8,0.76,0.68,0.6,0.54,0.6,0.68,0.72,0.66,0.56,0.46,0.4,0.46,0.54,0.6,0.56,0.48,0.4,0.34,0.4,0.46,0.42,0.34,0.28,0.34,0.42],
    [0.96,0.97,0.97,0.97,0.96,0.95,0.94,0.91,0.86,0.78,0.68,0.56,0.48,0.56,0.66,0.72,0.68,0.58,0.48,0.4,0.48,0.56,0.52,0.42,0.34,0.28,0.34,0.42,0.46,0.4,0.32,0.26,0.32,0.38,0.34,0.26,0.22,0.28,0.34],
    [0.88,0.9,0.92,0.93,0.93,0.92,0.9,0.86,0.8,0.74,0.7,0.74,0.8,0.84,0.82,0.76,0.68,0.62,0.66,0.74,0.78,0.74,0.66,0.58,0.52,0.58,0.66,0.7,0.64,0.54,0.46,0.4,0.44,0.5,0.46,0.38,0.32,0.38,0.44],
    [0.93,0.95,0.96,0.96,0.95,0.93,0.9,0.84,0.76,0.66,0.58,0.52,0.58,0.66,0.62,0.54,0.46,0.52,0.6,0.56,0.46,0.36,0.3,0.36,0.44,0.4,0.32,0.26,0.32,0.38,0.34,0.26,0.2,0.26,0.32,0.28,0.22,0.26,0.3],
    [0.82,0.85,0.88,0.9,0.91,0.9,0.88,0.86,0.84,0.8,0.76,0.8,0.84,0.8,0.74,0.66,0.72,0.8,0.84,0.8,0.72,0.64,0.58,0.64,0.7,0.66,0.58,0.5,0.46,0.52,0.58,0.54,0.46,0.4,0.46,0.52,0.48,0.4,0.46],
]

for arr in [MEAN_0_40, MEAN_40_80, MEAN_80_120, MEAN_120_160, MEAN_160_200]:
    assert len(arr) == len(FREQ), len(arr)
for gi, grp in enumerate([GREY_0_40, GREY_40_80, GREY_80_120, GREY_120_160, GREY_160_200]):
    for i, g in enumerate(grp):
        assert len(g) == len(FREQ), (gi, i, len(g))

# ---------------- styling ----------------
FONT = "Liberation Sans"
TICK_PX = "25px"
TITLE_PX = "26px"
LABEL_PX = "27px"
GREY = "#bebebe"
FRAME_H = 167
LEFT_W = 372
RIGHT_W = 370      # right column is cut by the window edge, as in the reference


def make_panel(title, mean, greys, right=False, xlabel=None, ylabel=None, border_bottom=73):
    fw = RIGHT_W if right else LEFT_W
    xend = 1 + 19 * RIGHT_W / LEFT_W if right else 20
    p = figure(frame_width=fw, frame_height=FRAME_H,
               x_range=Range1d(1, xend), y_range=Range1d(0, 1),
               toolbar_location=None, output_backend="svg",
               min_border_left=78 if right else 86,
               min_border_right=0 if right else 38,
               min_border_top=55, min_border_bottom=border_bottom,
               background_fill_color="white", border_fill_color="white")
    p.title.text = title
    p.title.align = "center"
    p.title.text_font = FONT
    p.title.text_font_size = TITLE_PX
    p.title.text_font_style = "bold"
    p.title.text_color = "black"
    p.title.standoff = 22

    for g in greys:
        p.line(FREQ, g, line_color=GREY, line_width=1.1)
    p.line(FREQ, mean, line_color="black", line_width=3.4, line_join="round")

    for ax in (p.xaxis[0], p.yaxis[0]):
        ax.axis_line_color = "black"
        ax.axis_line_width = 1.5
        ax.major_tick_in = 4
        ax.major_tick_out = 0
        ax.minor_tick_line_color = None
        ax.major_tick_line_color = "black"
        ax.major_label_text_font = FONT
        ax.major_label_text_font_size = TICK_PX
        ax.major_label_text_color = "black"
        ax.axis_label_text_font = FONT
        ax.axis_label_text_font_size = LABEL_PX
        ax.axis_label_text_font_style = "bold"
        ax.axis_label_text_color = "black"
    p.xaxis.ticker = FixedTicker(ticks=X_TICKS)
    p.yaxis.ticker = FixedTicker(ticks=Y_TICKS)
    p.yaxis.formatter = NumeralTickFormatter(format="0.[0]")
    p.xaxis.major_label_standoff = 7
    p.yaxis.major_label_standoff = 5
    p.xaxis.axis_label_standoff = -2
    p.yaxis.axis_label_standoff = 6
    if xlabel:
        p.xaxis.axis_label = xlabel
    if ylabel:
        p.yaxis.axis_label = ylabel

    for gr in (p.xgrid[0], p.ygrid[0]):
        gr.grid_line_color = "#444444"
        gr.grid_line_dash = "1 3"
        gr.grid_line_width = 1
    p.xgrid.ticker = FixedTicker(ticks=X_TICKS)
    p.ygrid.ticker = FixedTicker(ticks=Y_TICKS)

    if right:
        p.outline_line_color = None
        p.add_layout(Span(location=1, dimension="width", line_color="black", line_width=1.5))
    else:
        p.outline_line_color = "black"
        p.outline_line_width = 1.5
    return p


p1 = make_panel(TITLES[0], MEAN_0_40, GREY_0_40)
p2 = make_panel(TITLES[1], MEAN_40_80, GREY_40_80, right=True)
p3 = make_panel(TITLES[2], MEAN_80_120, GREY_80_120, ylabel=Y_LABEL)
p4 = make_panel(TITLES[3], MEAN_120_160, GREY_120_160, right=True, xlabel=X_LABEL)
p5 = make_panel(TITLES[4], MEAN_160_200, GREY_160_200, xlabel=X_LABEL, border_bottom=64)

layout = column(row(p1, p2), row(p3, p4), row(p5))
open("out.html", "w").write(file_html(layout, INLINE))
